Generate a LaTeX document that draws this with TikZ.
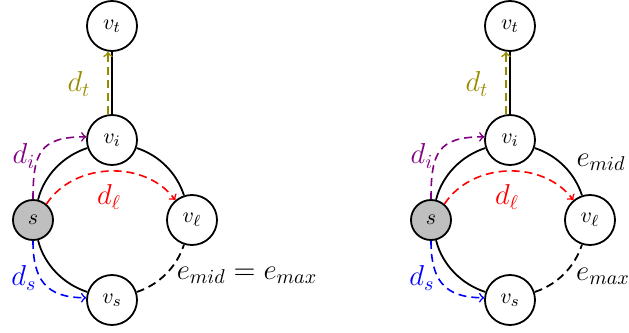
\documentclass[tikz,border=0pt]{standalone}
\definecolor{dolive}{RGB}{150,140,0}
\definecolor{dpurple}{RGB}{128,0,128}

\begin{document}
\begin{tikzpicture}[
        x=0.5pt, y=0.5pt,
        vertex/.style={draw, circle, minimum size=25pt, inner sep=0pt, line width=0.9pt, font=\fontsize{11}{12}\selectfont},
        source/.style={vertex, fill=black!25, minimum size=20pt},
        ring/.style={line width=0.9pt, looseness=0.9},
        dist/.style={->, dash pattern=on 4pt off 2.5pt, line width=0.8pt},
        lbl/.style={font=\fontsize{14}{16}\selectfont, inner sep=0pt},
    ]
    \useasboundingbox (0,0) rectangle (629,333);

    \foreach \g/\dx in {a/0, b/398} {
        \begin{scope}[shift={(\dx,0)}]
        \node[vertex](\g vt) at (112,307) {$v_t$};
        \node[vertex](\g vi) at (112,193) {$v_i$};
        \node[source](\g s)  at (33,113)  {$s$};
        \node[vertex](\g vl) at (192,113) {$v_\ell$};
        \node[vertex](\g vs) at (112,33)  {$v_s$};

        % the ring through s, v_i, v_l, v_s
        \draw[ring] (\g vi) -- (\g vt);
        \draw[ring] (\g vi) to[out=-18, in=108] (\g vl);
        \draw[ring] (\g s) to[out=76, in=198] (\g vi);
        \draw[ring] (\g s) to[out=-76, in=162] (\g vs);
        \draw[ring, dash pattern=on 4pt off 2.5pt] (\g vs) to[out=18, in=-108] (\g vl);

        \draw[dist, dolive] ([xshift=-2pt]\g vi.north) -- ([xshift=-2pt]\g vt.south);
        \draw[dist, dpurple] (\g s.north) to[out=90, in=180, looseness=1.45] (\g vi.173);
        \draw[dist, red] (\g s.50) to[bend left=55] (\g vl.130);
        \draw[dist, blue] (\g s.south) to[out=-90, in=180, looseness=1.3] (\g vs.175);
        \end{scope}
    }

    % distance labels
    \foreach \dx in {0, 398} {
        \node[lbl, dolive]  at (79+\dx,249) {$d_t$};
        \node[lbl, dpurple] at (24+\dx,177) {$d_i$};
        \node[lbl, red]     at (109+\dx,136) {$d_\ell$};
        \node[lbl, blue]    at (24+\dx,55)  {$d_s$};
    }

    % edge labels
    \node[lbl] (eq)   at (247,58)  {$e_{mid} = e_{max}$};
    \node[lbl] (emid) at (601,171) {$e_{mid}$};
    \node[lbl] (emax) at (603,57)  {$e_{max}$};

    \end{tikzpicture}
\end{document}
